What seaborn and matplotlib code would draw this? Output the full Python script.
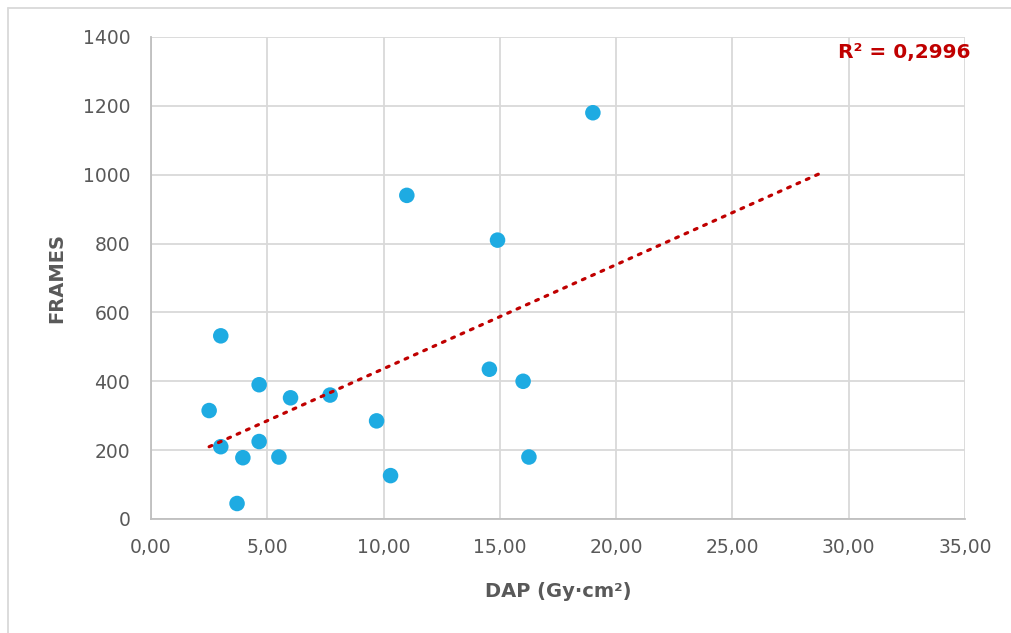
import numpy as np
import pandas as pd
import matplotlib
matplotlib.use("Agg")
import matplotlib.pyplot as plt
import seaborn as sns
from matplotlib.lines import Line2D

# Dose-area product (Gy·cm²) and number of acquired frames per procedure
dap = [2.5, 3.0, 3.0, 3.95, 3.7, 4.65, 4.65, 5.5, 6.0, 7.7,
       9.7, 10.3, 11.0, 14.55, 14.9, 16.0, 16.25, 19.0]
frames = [315, 532, 210, 178, 45, 390, 225, 180, 352, 360,
          285, 126, 940, 435, 810, 400, 180, 1180]

x_ticks = [0, 5, 10, 15, 20, 25, 30, 35]
y_ticks = [0, 200, 400, 600, 800, 1000, 1200, 1400]
r2_label = "R² = 0,2996"
forecast_forward = 9.85

sns.set_theme(style="white")
plt.rcParams["font.family"] = ["DejaVu Sans"]

grey_text = "#595959"
point_color = "#1EABE2"
trend_color = "#C00000"

df = pd.DataFrame({"DAP": dap, "FRAMES": frames})

fig = plt.figure(figsize=(10.11, 6.33), dpi=100)
ax = fig.add_axes([151 / 1011, 1 - 519 / 633, (965 - 151) / 1011, (519 - 37) / 633])

# Outer chart-area frame (top and left edges fall inside the canvas)
fx, fy = 7.5 / 1011, 1 - 7.5 / 633
fig.lines.append(Line2D([fx, 1.0], [fy, fy], transform=fig.transFigure,
                        color="#d9d9d9", linewidth=1.3))
fig.lines.append(Line2D([fx, fx], [0.0, fy], transform=fig.transFigure,
                        color="#d9d9d9", linewidth=1.3))

ax.grid(True, color="#d9d9d9", linewidth=1.3)
ax.set_axisbelow(True)

# Linear trendline with forward forecast
slope, intercept = np.polyfit(df["DAP"], df["FRAMES"], 1)
tx = np.array([min(dap), max(dap) + forecast_forward])
trend = pd.DataFrame({"DAP": tx, "FRAMES": slope * tx + intercept})
sns.lineplot(data=trend, x="DAP", y="FRAMES", ax=ax, color=trend_color,
             linestyle=(0, (0.9, 2.3)), linewidth=2.3, dash_capstyle="round", zorder=3)

sns.scatterplot(data=df, x="DAP", y="FRAMES", ax=ax, s=125, color=point_color,
                edgecolor="none", linewidth=0, zorder=2)

ax.set_xlim(0, 35)
ax.set_ylim(0, 1400)
ax.set_xticks(x_ticks)
ax.set_yticks(y_ticks)
ax.set_xticklabels([f"{v:.2f}".replace(".", ",") for v in x_ticks])
ax.set_yticklabels([str(v) for v in y_ticks])
ax.tick_params(axis="both", length=0, labelsize=13.5, colors=grey_text)
ax.tick_params(axis="x", pad=14)
ax.tick_params(axis="y", pad=15)

for side in ["top", "right"]:
    ax.spines[side].set_visible(False)
for side in ["left", "bottom"]:
    ax.spines[side].set_color("#bfbfbf")
    ax.spines[side].set_linewidth(1.3)

ax.set_xlabel("DAP (Gy·cm²)", fontsize=14, fontweight="bold", color=grey_text, labelpad=18)
ax.set_ylabel("FRAMES", fontsize=14, fontweight="bold", color=grey_text, labelpad=12)

ax.text(32.4, 1356, r2_label, ha="center", va="center", fontsize=14.5,
        fontweight="bold", color=trend_color, zorder=4, clip_on=False)

fig.savefig("out.png", dpi=100)
